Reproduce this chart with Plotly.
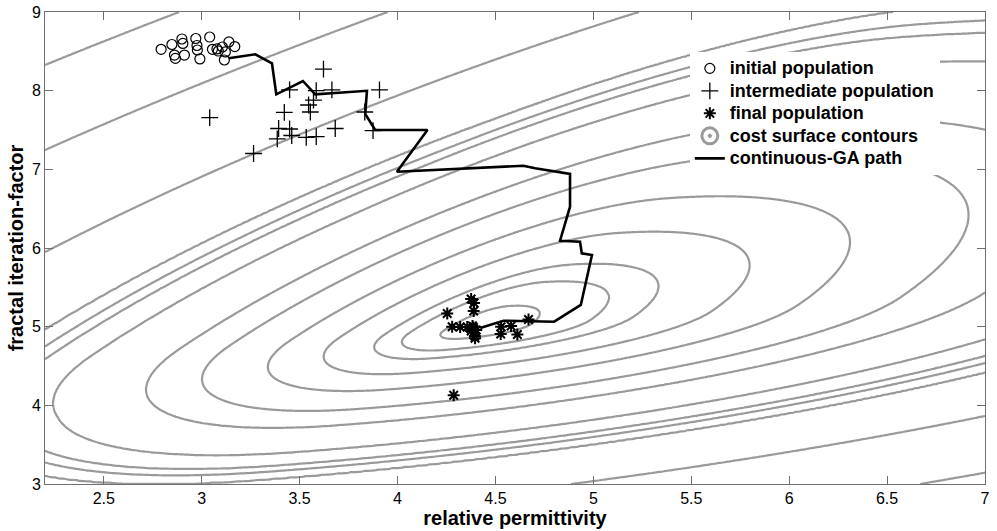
import numpy as np
import plotly.graph_objects as go

# ---------------- data ----------------
init_eps = [2.793, 2.848, 2.861, 2.899, 2.904, 2.912, 2.970, 2.976, 2.978, 2.991,
            3.041, 3.055, 3.078, 3.085, 3.106, 3.121, 3.116, 3.139, 3.169, 2.866]
init_n = [8.526, 8.587, 8.453, 8.657, 8.600, 8.453, 8.663, 8.574, 8.517, 8.403,
          8.682, 8.526, 8.530, 8.504, 8.555, 8.492, 8.390, 8.619, 8.561, 8.410]

mid_eps = [3.622, 3.449, 3.585, 3.665, 3.908, 3.571, 3.546, 3.555, 3.422, 3.041,
           3.833, 3.875, 3.393, 3.449, 3.682, 3.386, 3.460, 3.534, 3.585, 3.265]
mid_n = [8.275, 8.009, 8.000, 8.009, 8.009, 7.881, 7.818, 7.729, 7.723, 7.657,
         7.729, 7.491, 7.519, 7.513, 7.519, 7.386, 7.430, 7.405, 7.415, 7.201]

fin_eps = [4.254, 4.376, 4.391, 4.389, 4.279, 4.320, 4.356, 4.388, 4.402, 4.376,
           4.396, 4.529, 4.580, 4.527, 4.612, 4.669, 4.287, 4.395, 4.383]
fin_n = [5.167, 5.352, 5.301, 5.199, 5.000, 4.996, 4.996, 4.990, 4.958, 4.945,
         4.852, 5.000, 5.009, 4.907, 4.901, 5.091, 4.128, 4.880, 5.010]

path_eps = [3.138, 3.274, 3.359, 3.381, 3.517, 3.580, 3.844, 3.835, 3.886, 4.153,
            3.997, 4.643, 4.703, 4.881, 4.881, 4.830, 4.932, 4.941, 4.993, 4.936,
            4.800, 4.662, 4.541, 4.422]
path_n = [8.411, 8.462, 8.348, 7.954, 8.123, 7.954, 7.998, 7.703, 7.500, 7.500,
          6.970, 7.046, 7.013, 6.941, 6.525, 6.093, 6.080, 5.933, 5.911, 5.276,
          5.063, 5.072, 5.076, 4.983]

# cost-surface description (estimated from the contour geometry)
surf_center = (4.40, 4.98)
surf_slopes = (1.7, 0.18)               # directions of the two families of level lines
surf_scales = (0.71, 1.22, 0.72, 0.34)  # +u1, -u1, +u2, -u2
surf_spread = (2.5, 0.03)               # widening of the +u1 side far from the valley
contour_levels = [0.35, 0.73, 1.0, 1.5, 2.05, 2.7, 3.25, 4.15, 4.6, 4.8, 5.08, 6.5, 8.5, 10.2]

x_ticks = [2.5, 3, 3.5, 4, 4.5, 5, 5.5, 6, 6.5, 7]
y_ticks = [3, 4, 5, 6, 7, 8, 9]

# ---------------- cost surface grid ----------------
gx = np.linspace(2.2, 7.0, 481)
gy = np.linspace(3.0, 9.0, 361)
X, Y = np.meshgrid(gx, gy)
dx = X - surf_center[0]
dy = Y - surf_center[1]
u1 = dy - surf_slopes[0] * dx
u2 = dy - surf_slopes[1] * dx
r1p = surf_scales[0] * (1 + surf_spread[1] * np.clip(u1 - surf_spread[0], 0, None))
r1 = np.where(u1 > 0, r1p, surf_scales[1])
r2 = np.where(u2 > 0, surf_scales[2], surf_scales[3])
S = np.sqrt((u1 / r1) ** 2 + (u2 / r2) ** 2)
lev_x = [0.0] + contour_levels + [1e6]
lev_i = list(range(len(contour_levels) + 1)) + [len(contour_levels) + 1e6]
Z = np.interp(S, lev_x, lev_i)


def big(t):
    return f"<span style='font-size:18px'>{t}</span>"


fig = go.Figure()
fig.add_trace(go.Contour(
    x=gx, y=gy, z=Z,
    contours=dict(start=1, end=len(contour_levels), size=1, coloring="lines"),
    colorscale=[[0, "#9a9a9a"], [1, "#9a9a9a"]],
    line=dict(width=2.2, smoothing=1),
    showscale=False, showlegend=False, hoverinfo="skip",
))
fig.add_trace(go.Scatter(
    x=path_eps, y=path_n, mode="lines", name=big("continuous-GA path"),
    line=dict(color="black", width=2.6), legendrank=5,
))
fig.add_trace(go.Scatter(
    x=init_eps, y=init_n, mode="markers", name=big("initial population"),
    marker=dict(symbol="circle-open", size=10, color="black", line=dict(width=1.2)),
    legendrank=1,
))
fig.add_trace(go.Scatter(
    x=mid_eps, y=mid_n, mode="markers", name=big("intermediate population"),
    marker=dict(symbol="cross-thin-open", size=12, color="black", line=dict(width=1.3)),
    legendrank=2,
))
fig.add_trace(go.Scatter(
    x=fin_eps, y=fin_n, mode="markers", name=big("final population"),
    marker=dict(symbol="asterisk-open", size=10, color="black", line=dict(width=2)),
    legendrank=3,
))
fig.add_trace(go.Scatter(
    x=[None], y=[None], mode="markers", name=big("cost surface contours"),
    marker=dict(symbol="circle-open-dot", size=17, color="#9a9a9a", line=dict(width=3)),
    legendrank=4,
))

tick_font = dict(family="Liberation Sans Narrow, Arial Narrow, Liberation Sans, Arial", size=16, color="black")
title_font = dict(family="Liberation Sans, Arial", size=20, color="black")

fig.update_layout(
    width=997, height=531,
    margin=dict(l=45, r=12, t=12, b=47, autoexpand=False),
    plot_bgcolor="white", paper_bgcolor="white",
    showlegend=True,
    legend=dict(
        x=0.686, y=0.915, xanchor="left", yanchor="top",
        bgcolor="white", borderwidth=0,
        font=dict(family="Liberation Sans, Arial", size=15, color="black", weight="bold"),
        tracegroupgap=0, itemsizing="trace",
    ),
    xaxis=dict(
        range=[2.2, 7.0], tickvals=x_ticks, ticktext=[f"{v:g}" for v in x_ticks],
        ticks="inside", ticklen=8, tickcolor="#707070", showline=True, linecolor="#707070",
        mirror="ticks", showgrid=False, zeroline=False, tickfont=tick_font,
        title=dict(text="<b>relative permittivity</b>", font=title_font, standoff=4),
    ),
    yaxis=dict(
        range=[3.0, 9.0], tickvals=y_ticks, ticktext=[f"{v:g}" for v in y_ticks],
        ticks="inside", ticklen=8, tickcolor="#707070", showline=True, linecolor="#707070",
        mirror="ticks", showgrid=False, zeroline=False, tickfont=tick_font,
        title=dict(text="<b>fractal iteration-factor</b>", font=title_font, standoff=2),
    ),
)

fig.write_html("out.html")
